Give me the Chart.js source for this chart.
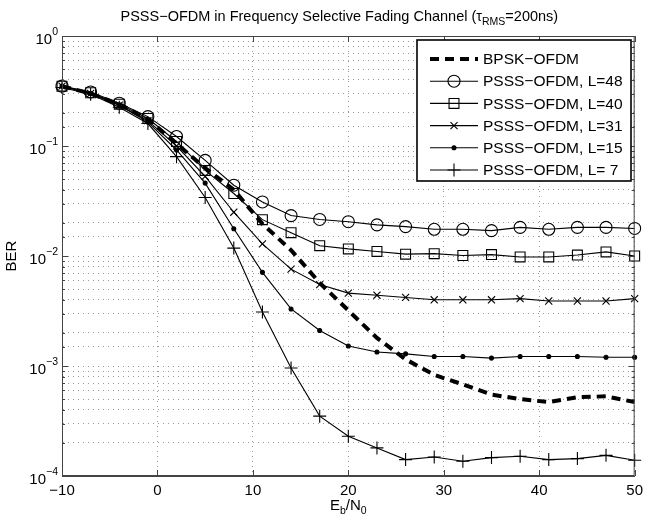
<!DOCTYPE html>
<html>
<head>
<meta charset="utf-8">
<script src="https://cdn.jsdelivr.net/npm/chart.js@4.4.0/dist/chart.umd.min.js"></script>
<style>
html, body { margin: 0; padding: 0; background: #fff; }
</style>
</head>
<body>
<canvas id="berChart" width="649" height="522"></canvas>
<script>
// Eb/N0 (dB)
const ebno = [-10, -7, -4, -1, 2, 5, 8, 11, 14, 17, 20, 23, 26, 29, 32, 35, 38, 41, 44, 47, 50]

// BER curves
const berBPSK = [0.35, 0.30, 0.24, 0.175, 0.105, 0.063, 0.040, 0.0196, 0.0113, 0.0057, 0.0032, 0.0018, 0.00115, 0.00083, 0.00068, 0.00055, 0.0005, 0.00047, 0.00052, 0.00053, 0.00047]
const berL48 = [0.35, 0.31, 0.245, 0.185, 0.122, 0.074, 0.044, 0.031, 0.0233, 0.0215, 0.0205, 0.0192, 0.0185, 0.0175, 0.0175, 0.017, 0.0182, 0.0175, 0.0182, 0.0182, 0.0178]
const berL40 = [0.35, 0.305, 0.24, 0.178, 0.11, 0.060, 0.037, 0.0214, 0.0163, 0.0124, 0.0116, 0.011, 0.0104, 0.0105, 0.0101, 0.0103, 0.0098, 0.0098, 0.0102, 0.0109, 0.0100]
const berL31 = [0.35, 0.30, 0.235, 0.17, 0.10, 0.053, 0.025, 0.0129, 0.0076, 0.0055, 0.0046, 0.0044, 0.0042, 0.0040, 0.0040, 0.0040, 0.0041, 0.0039, 0.0039, 0.0039, 0.0041]
const berL15 = [0.35, 0.30, 0.235, 0.165, 0.092, 0.046, 0.0177, 0.0071, 0.0033, 0.0021, 0.00152, 0.00134, 0.00129, 0.00122, 0.00122, 0.00118, 0.00122, 0.00122, 0.00122, 0.0012, 0.0012]
const berL7 = [0.34, 0.295, 0.225, 0.16, 0.080, 0.034, 0.0118, 0.0031, 0.00096, 0.00035, 0.00023, 0.00018, 0.000141, 0.000149, 0.000136, 0.000147, 0.000151, 0.000141, 0.000144, 0.000154, 0.000139]

const seriesLabels = ['BPSK\u2212OFDM', 'PSSS\u2212OFDM, L=48', 'PSSS\u2212OFDM, L=40', 'PSSS\u2212OFDM, L=31', 'PSSS\u2212OFDM, L=15', 'PSSS\u2212OFDM, L= 7']
const xTicks = [-10, 0, 10, 20, 30, 40, 50]
const yExponents = [0, -1, -2, -3, -4]

const FONT = '"Liberation Sans", Arial, Helvetica, sans-serif'

function toPoints(arr) {
    return ebno.map((x, i) => ({ x: x, y: arr[i] }))
}

function lineSet(label, arr, style, radius, fill) {
    return {
        label: label,
        data: toPoints(arr),
        borderColor: '#000',
        borderWidth: 1.1,
        pointStyle: style,
        pointRadius: radius,
        pointBorderColor: '#000',
        pointBorderWidth: 1.1,
        pointBackgroundColor: fill,
        clip: false,
        tension: 0
    }
}

const datasets = [
    {
        label: seriesLabels[0],
        data: toPoints(berBPSK),
        borderColor: '#000',
        borderWidth: 4,
        borderDash: [9, 6],
        borderCapStyle: 'butt',
        pointRadius: 0,
        tension: 0
    },
    lineSet(seriesLabels[1], berL48, 'circle', 6, 'rgba(0,0,0,0)'),
    lineSet(seriesLabels[2], berL40, 'rect', 7, 'rgba(0,0,0,0)'),
    lineSet(seriesLabels[3], berL31, 'crossRot', 5, 'rgba(0,0,0,0)'),
    lineSet(seriesLabels[4], berL15, 'circle', 2, '#000'),
    lineSet(seriesLabels[5], berL7, 'cross', 6.5, 'rgba(0,0,0,0)')
]

// 文字：標題、軸標籤、內側刻度、外框、圖例
const decorPlugin = {
    id: 'decor',
    afterDatasetsDraw(chart) {
        const ctx = chart.ctx
        const a = chart.chartArea
        const xs = chart.scales.x
        const ys = chart.scales.y
        ctx.save()
        ctx.strokeStyle = '#444'
        ctx.lineWidth = 1
        // 外框
        ctx.strokeRect(a.left + 0.5, a.top + 0.5, a.right - a.left - 1, a.bottom - a.top - 1)
        // x 內側刻度
        xs.ticks.forEach(t => {
            const px = Math.round(xs.getPixelForValue(t.value)) + 0.5
            ctx.beginPath()
            ctx.moveTo(px, a.bottom); ctx.lineTo(px, a.bottom - 6)
            ctx.moveTo(px, a.top); ctx.lineTo(px, a.top + 6)
            ctx.stroke()
        })
        // y 內側刻度
        ys.ticks.forEach(t => {
            const py = Math.round(ys.getPixelForValue(t.value)) + 0.5
            const major = Math.abs(Math.log10(t.value) - Math.round(Math.log10(t.value))) < 1e-6
            const len = major ? 6 : 3
            ctx.beginPath()
            ctx.moveTo(a.left, py); ctx.lineTo(a.left + len, py)
            ctx.moveTo(a.right, py); ctx.lineTo(a.right - len, py)
            ctx.stroke()
        })
        ctx.restore()
    },
    afterDraw(chart) {
        const ctx = chart.ctx
        const a = chart.chartArea
        const xs = chart.scales.x
        const ys = chart.scales.y
        const cx = (a.left + a.right) / 2
        ctx.save()
        ctx.fillStyle = '#000'

        // 標題
        const parts = [
            { t: 'PSSS\u2212OFDM in Frequency Selective Fading Channel (\u03c4', f: '14.5px ' + FONT, dy: 0 },
            { t: 'RMS', f: '10.5px ' + FONT, dy: 4 },
            { t: '=200ns)', f: '14.5px ' + FONT, dy: 0 }
        ]
        let total = 0
        parts.forEach(p => { ctx.font = p.f; p.w = ctx.measureText(p.t).width; total += p.w })
        let tx = cx - 9 - total / 2
        ctx.textBaseline = 'alphabetic'
        ctx.textAlign = 'left'
        parts.forEach(p => { ctx.font = p.f; ctx.fillText(p.t, tx, 21 + p.dy); tx += p.w })

        // y 軸刻度標籤 10^k
        yExponents.forEach(e => {
            const py = ys.getPixelForValue(Math.pow(10, e))
            const expText = e === 0 ? '0' : '\u2212' + Math.abs(e)
            ctx.font = '10.5px ' + FONT
            const ew = ctx.measureText(expText).width
            const right = a.left - 4
            ctx.textAlign = 'left'
            ctx.fillText(expText, right - ew, py - 1)
            ctx.font = '15px ' + FONT
            ctx.textAlign = 'right'
            ctx.fillText('10', right - ew, py + 8)
        })

        // x 軸標題 Eb/N0
        const xl = [
            { t: 'E', f: '15px ' + FONT, dy: 0 },
            { t: 'b', f: '10.5px ' + FONT, dy: 4 },
            { t: '/N', f: '15px ' + FONT, dy: 0 },
            { t: '0', f: '10.5px ' + FONT, dy: 4 }
        ]
        total = 0
        xl.forEach(p => { ctx.font = p.f; p.w = ctx.measureText(p.t).width; total += p.w })
        tx = cx - total / 2
        ctx.textAlign = 'left'
        xl.forEach(p => { ctx.font = p.f; ctx.fillText(p.t, tx, 510 + p.dy); tx += p.w })

        // y 軸標題
        ctx.save()
        ctx.translate(16, (a.top + a.bottom) / 2)
        ctx.rotate(-Math.PI / 2)
        ctx.font = '15px ' + FONT
        ctx.textAlign = 'center'
        ctx.fillText('BER', 0, 0)
        ctx.restore()

        // 圖例
        const box = { l: 417, t: 40, r: 631, b: 181 }
        ctx.fillStyle = '#fff'
        ctx.fillRect(box.l, box.t, box.r - box.l, box.b - box.t)
        ctx.strokeStyle = '#000'
        ctx.lineWidth = 1.6
        ctx.strokeRect(box.l, box.t, box.r - box.l, box.b - box.t)
        chart.data.datasets.forEach((ds, i) => {
            const ly = 59 + i * 22.2
            ctx.save()
            ctx.strokeStyle = '#000'
            ctx.lineWidth = ds.borderWidth
            ctx.setLineDash(ds.borderDash || [])
            ctx.lineCap = 'butt'
            ctx.beginPath()
            ctx.moveTo(430, ly); ctx.lineTo(478, ly)
            ctx.stroke()
            ctx.restore()
            if (ds.pointRadius > 0) {
                ctx.save()
                ctx.strokeStyle = '#000'
                ctx.fillStyle = ds.pointBackgroundColor
                ctx.lineWidth = ds.pointBorderWidth
                Chart.helpers.drawPoint(ctx, { pointStyle: ds.pointStyle, radius: ds.pointRadius, rotation: 0, borderWidth: ds.pointBorderWidth }, 454, ly)
                ctx.restore()
            }
            ctx.fillStyle = '#000'
            ctx.font = '15.5px ' + FONT
            ctx.textAlign = 'left'
            ctx.textBaseline = 'middle'
            ctx.fillText(ds.label, 483, ly + 1)
        })
        ctx.restore()
    }
}

const ctx = document.getElementById('berChart').getContext('2d')
const berChart = new Chart(ctx, {
    type: 'line',
    data: { datasets: datasets },
    options: {
        responsive: false,
        animation: false,
        devicePixelRatio: 1,
        layout: { padding: { top: 36, right: 11, left: 0, bottom: 0 } },
        plugins: {
            legend: { display: false },
            title: { display: false },
            tooltip: { enabled: false }
        },
        scales: {
            x: {
                type: 'linear',
                min: -10,
                max: 50,
                afterBuildTicks: s => { s.ticks = xTicks.map(v => ({ value: v })) },
                afterFit: s => { s.height = 46 },
                ticks: {
                    color: '#000',
                    padding: 6,
                    maxRotation: 0,
                    font: { size: 15, family: FONT },
                    callback: v => (v < 0 ? '\u2212' + Math.abs(v) : '' + v)
                },
                grid: { color: '#999', lineWidth: 1, drawTicks: false },
                border: { display: true, color: '#444', width: 1, dash: [1, 4] }
            },
            y: {
                type: 'logarithmic',
                min: 1e-4,
                max: 1,
                afterFit: s => { s.width = 62 },
                ticks: { display: false },
                grid: { color: '#999', lineWidth: 1, drawTicks: false },
                border: { display: true, color: '#444', width: 1, dash: [1, 4] }
            }
        }
    },
    plugins: [decorPlugin]
})
</script>
</body>
</html>
